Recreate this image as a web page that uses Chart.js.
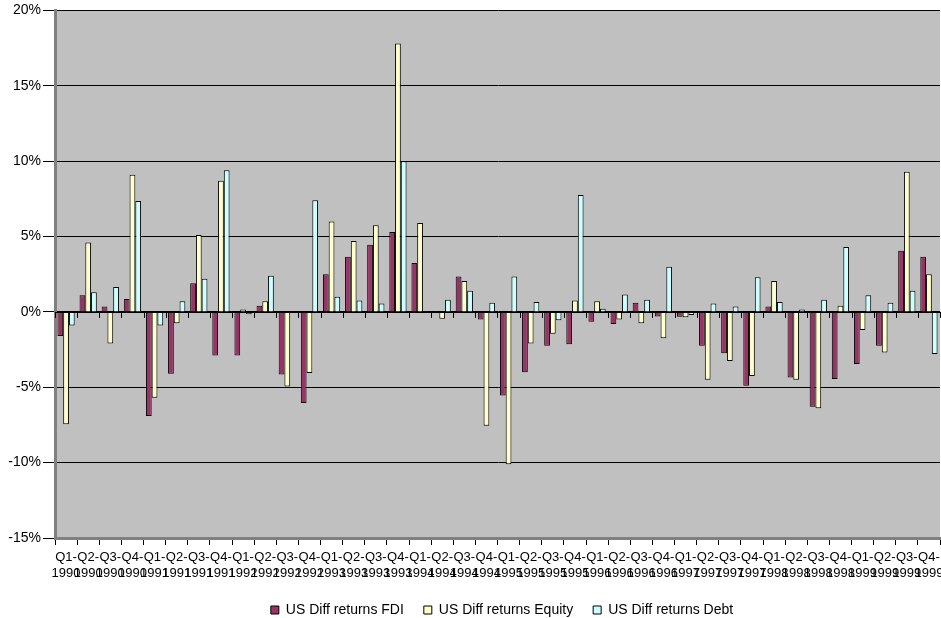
<!DOCTYPE html>
<html>
<head>
<meta charset="utf-8">
<script src="https://cdn.jsdelivr.net/npm/chart.js@4/dist/chart.umd.min.js"></script>
<style>
  html, body { margin: 0; padding: 0; background: #fff; }
  #wrap { width: 941px; height: 618px; }
</style>
</head>
<body>
<div id="wrap"><canvas id="chart"></canvas></div>
<script>
// quarters shown on the x axis
const quarters = [
  'Q1-1990', 'Q2-1990', 'Q3-1990', 'Q4-1990',
  'Q1-1991', 'Q2-1991', 'Q3-1991', 'Q4-1991',
  'Q1-1992', 'Q2-1992', 'Q3-1992', 'Q4-1992',
  'Q1-1993', 'Q2-1993', 'Q3-1993', 'Q4-1993',
  'Q1-1994', 'Q2-1994', 'Q3-1994', 'Q4-1994',
  'Q1-1995', 'Q2-1995', 'Q3-1995', 'Q4-1995',
  'Q1-1996', 'Q2-1996', 'Q3-1996', 'Q4-1996',
  'Q1-1997', 'Q2-1997', 'Q3-1997', 'Q4-1997',
  'Q1-1998', 'Q2-1998', 'Q3-1998', 'Q4-1998',
  'Q1-1999', 'Q2-1999', 'Q3-1999', 'Q4-1999'
];

// differential returns in percent
const fdi = [
  -1.6, 1.1, 0.35, 0.85,
  -6.9, -4.1, 1.9, -2.9,
  -2.9, 0.4, -4.15, -6.05,
  2.5, 3.65, 4.45, 5.3,
  3.25, 0.05, 2.35, -0.5,
  -5.55, -4.0, -2.25, -2.15,
  -0.65, -0.8, 0.6, -0.3,
  -0.33, -2.25, -2.75, -4.9,
  0.35, -4.35, -6.3, -4.45,
  -3.45, -2.25, 4.05, 3.65
];
const equity = [
  -7.45, 4.6, -2.1, 9.1,
  -5.7, -0.75, 5.1, 8.7,
  0.15, 0.7, -4.95, -4.05,
  6.0, 4.7, 5.75, 17.8,
  5.9, -0.45, 2.05, -7.55,
  -10.1, -2.1, -1.45, 0.75,
  0.7, -0.5, -0.75, -1.75,
  -0.35, -4.5, -3.25, -4.25,
  2.05, -4.5, -6.4, 0.4,
  -1.2, -2.7, 9.3, 2.5
];
const debt = [
  -0.9, 1.3, 1.65, 7.35,
  -0.9, 0.7, 2.2, 9.4,
  -0.15, 2.4, 0, 7.4,
  1.0, 0.75, 0.55, 10.0,
  0.05, 0.8, 1.4, 0.6,
  2.35, 0.65, -0.55, 7.75,
  0.2, 1.15, 0.8, 3.0,
  -0.2, 0.55, 0.35, 2.3,
  0.65, 0.15, 0.8, 4.3,
  1.1, 0.6, 1.4, -2.8
];

const seriesNames = ['US Diff returns FDI', 'US Diff returns Equity', 'US Diff returns Debt'];
const yMin = -15, yMax = 20, yStep = 5;

const FONT = 'Arial, "Liberation Sans", sans-serif';

// grey plot area + small tick marks on the zero line
const plotBg = {
  id: 'plotBg',
  afterLayout(chart) {
    // the legend in the original sits a little right of centre
    chart.legend.left += 31;
    chart.legend.right += 31;
  },
  beforeDraw(chart) {
    const {ctx, chartArea: a} = chart;
    ctx.save();
    ctx.fillStyle = '#c0c0c0';
    ctx.fillRect(a.left, a.top, a.right - a.left, a.bottom - a.top);
    ctx.restore();
  },
  afterDatasetsDraw(chart) {
    const {ctx, scales: {x, y}} = chart;
    const y0 = y.getPixelForValue(0);
    const step = x.getPixelForValue(1) - x.getPixelForValue(0);
    ctx.save();
    ctx.strokeStyle = '#000';
    ctx.lineWidth = 1;
    ctx.beginPath();
    ctx.moveTo(chart.chartArea.left, Math.round(y0) + 0.5);
    ctx.lineTo(chart.chartArea.right, Math.round(y0) + 0.5);
    for (let i = 0; i <= quarters.length; i++) {
      const px = Math.round(x.getPixelForValue(i) - step / 2) + 0.5;
      ctx.moveTo(px, y0);
      ctx.lineTo(px, y0 + 6);
    }
    ctx.stroke();
    ctx.restore();
  }
};

new Chart(document.getElementById('chart'), {
  type: 'bar',
  data: {
    labels: quarters.map(q => [q.slice(0, 3), q.slice(3)]),
    datasets: [{
      label: seriesNames[0],
      data: fdi,
      backgroundColor: '#993366',
      borderColor: '#000',
      borderWidth: 1
    }, {
      label: seriesNames[1],
      data: equity,
      backgroundColor: '#ffffcc',
      borderColor: '#000',
      borderWidth: 1
    }, {
      label: seriesNames[2],
      data: debt,
      backgroundColor: '#ccffff',
      borderColor: '#000',
      borderWidth: 1
    }]
  },
  options: {
    responsive: true,
    maintainAspectRatio: false,
    animation: false,
    layout: { padding: { top: 4, right: 1, bottom: -9, left: 2 } },
    datasets: {
      bar: { categoryPercentage: 0.78, barPercentage: 1.0 }
    },
    scales: {
      x: {
        afterFit: s => { s.height = 45; s.paddingLeft = 0; s.paddingRight = 0; },
        grid: { display: true, drawOnChartArea: false, tickLength: 7, color: '#000' },
        border: { display: true, color: '#808080', width: 3 },
        ticks: {
          autoSkip: false,
          maxRotation: 0,
          minRotation: 0,
          color: '#000',
          padding: 4,
          font: { family: FONT, size: 13, lineHeight: 1.27 }
        }
      },
      y: {
        min: yMin,
        max: yMax,
        afterFit: s => { s.width = 53; },
        ticks: {
          stepSize: yStep,
          color: '#000',
          padding: 2,
          font: { family: FONT, size: 14 },
          callback: v => v + '%'
        },
        grid: { color: '#000', lineWidth: 1, tickLength: 12, tickColor: '#000' },
        border: { display: true, color: '#808080', width: 3 }
      }
    },
    plugins: {
      legend: {
        position: 'bottom',
        labels: {
          boxWidth: 8,
          boxHeight: 8,
          padding: 20,
          color: '#000',
          font: { family: FONT, size: 14 }
        }
      },
      tooltip: { enabled: false }
    }
  },
  plugins: [plotBg]
});
</script>
</body>
</html>
